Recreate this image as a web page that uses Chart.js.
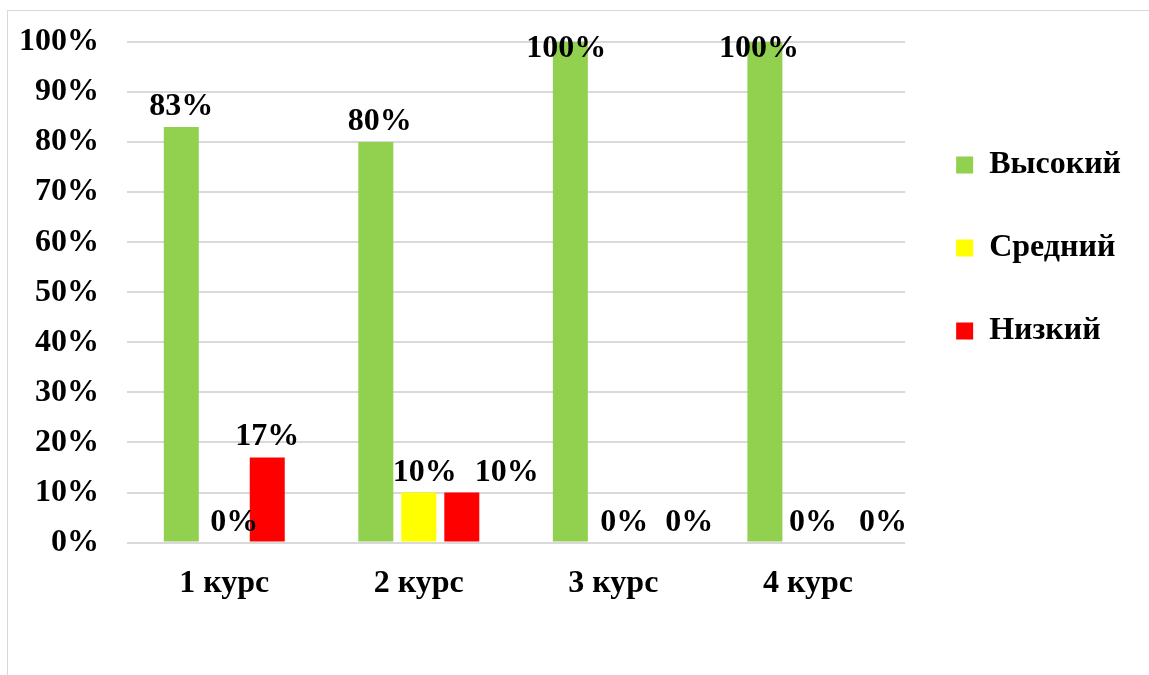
<!DOCTYPE html>
<html>
<head>
<meta charset="utf-8">
<script src="https://cdn.jsdelivr.net/npm/chart.js@4"></script>
<style>
  html, body { margin: 0; padding: 0; background: #fff; }
  #frame { position: absolute; left: 7px; top: 10px; width: 1160px; height: 700px; border: 1px solid #d9d9d9; }
  #wrap { position: absolute; left: 0; top: 0; width: 1149px; height: 675px; }
</style>
</head>
<body>
<div id="frame"></div>
<div id="wrap"><canvas id="myBar"></canvas></div>
<script>
var courses = ["1 курс", "2 курс", "3 курс", "4 курс"];
var high = [83, 80, 100, 100];
var middle = [0, 10, 0, 0];
var low = [17, 10, 0, 0];

var serif = "'Liberation Serif', 'Times New Roman', serif";

// value labels over bars, nudged sideways the way they sit in the original
var labelNudge = [[0, 4, -4, -6], [10, 6, 11, 5], [0, 45, 33, 32]];
var barLabels = {
  id: "barLabels",
  afterDatasetsDraw: function (chart) {
    var ctx = chart.ctx;
    var top = chart.chartArea.top;
    ctx.save();
    ctx.font = "bold 32px " + serif;
    ctx.fillStyle = "#000";
    ctx.textAlign = "center";
    ctx.textBaseline = "alphabetic";
    chart.data.datasets.forEach(function (ds, i) {
      chart.getDatasetMeta(i).data.forEach(function (bar, j) {
        var y = Math.max(bar.y - 12, top + 15);
        ctx.fillText(ds.data[j] + "%", bar.x + labelNudge[i][j], y);
      });
    });
    ctx.restore();
  }
};

var ctxBar = document.getElementById("myBar");
var myBarChart = new Chart(ctxBar, {
  type: "bar",
  data: {
    labels: courses,
    datasets: [
      { label: "Высокий", data: high, backgroundColor: "#92D050" },
      { label: "Средний", data: middle, backgroundColor: "#FFFF00" },
      { label: "Низкий", data: low, backgroundColor: "#FF0000" }
    ]
  },
  options: {
    responsive: true,
    maintainAspectRatio: false,
    animation: false,
    categoryPercentage: 0.663,
    barPercentage: 0.814,
    layout: { padding: { left: 20, top: 16, right: 18, bottom: 58 } },
    plugins: {
      tooltip: { enabled: false },
      legend: {
        position: "right",
        align: "start",
        title: { display: true, text: " ", font: { size: 10 }, padding: { top: 70, bottom: 0 } },
        labels: {
          boxWidth: 17,
          boxHeight: 17,
          padding: 51,
          color: "#000",
          font: { family: serif, size: 32, weight: "bold" }
        }
      }
    },
    scales: {
      x: {
        grid: { display: false },
        border: { display: false },
        ticks: { color: "#000", padding: 14, font: { family: serif, size: 32, weight: "bold" } }
      },
      y: {
        min: 0,
        max: 100,
        afterFit: function (scale) { scale.width = 107; },
        grid: { color: "#d9d9d9", lineWidth: 2, drawTicks: false },
        border: { display: false },
        ticks: {
          stepSize: 10,
          padding: 28,
          color: "#000",
          font: { family: serif, size: 32, weight: "bold", lineHeight: 0.875 },
          callback: function (v) { return v + "%"; }
        }
      }
    }
  },
  plugins: [barLabels]
});
</script>
</body>
</html>
